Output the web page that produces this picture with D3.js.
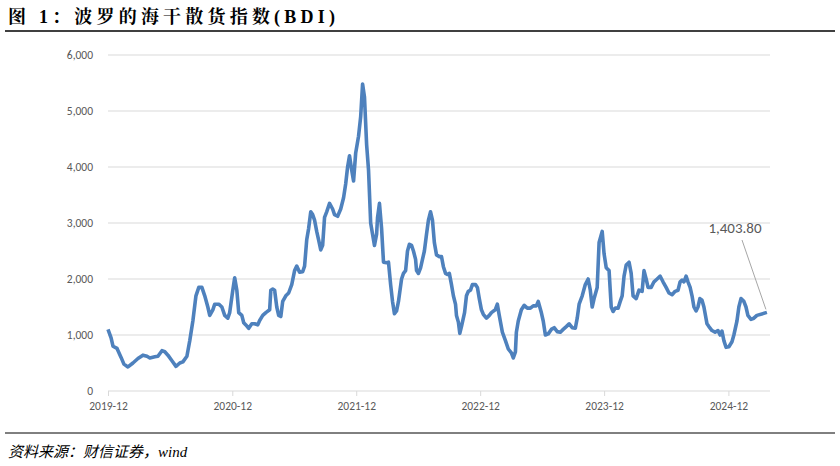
<!DOCTYPE html>
<html><head><meta charset="utf-8">
<script src="https://cdn.jsdelivr.net/npm/d3@7"></script>
<style>body{margin:0;background:#fff}</style></head>
<body><svg id="c" width="840" height="466"></svg>
<script>
// weeks since 2019-12-01, BDI value
const weeks=[0,1.3,2.1,3.8,5.5,6.7,8.4,10.5,12.6,14.7,16.4,17.6,19.7,21,22.7,23.9,25.2,26.9,28.6,30.2,31.5,33.2,34.4,35.7,37,38.2,39.5,40.7,42,42.8,44.1,44.9,46.6,47.9,49.1,50.4,51.2,52.5,53.3,54.2,55,56.3,57.1,58,59.2,60.5,61.7,63,63.8,65.1,66.4,68,68.5,69.3,70.1,71,71.8,72.7,73.5,74.8,76,77.3,78.5,79.4,80.6,81.9,82.7,83.6,84.4,85.3,86.1,86.9,87.8,88.6,89.5,90.3,91.1,92,93.2,94.5,95.3,96.6,97.9,99.1,100,100.8,101.6,102.5,103.3,104.2,105.4,106.3,107.1,107.9,108.8,109.6,110.5,111.3,112.1,113,113.4,114.2,115.1,115.9,117.2,118,118.9,119.7,120.5,121.4,122.2,123.5,124.3,125.2,126,126.8,127.7,128.5,129.4,129.8,130.6,131.5,132.3,133.1,134,134.8,135.7,136.5,137.3,138.2,139.4,140.3,141.1,142,142.8,143.6,144.5,145.3,146.2,146.6,147.4,148,148.7,150,150.8,151.6,152.5,153.3,154.6,155.4,156.2,157.1,157.9,159.2,160.4,161.3,162.9,163.8,164.6,165.9,167.2,168.4,169.7,170.5,171.4,171.8,172.6,173.9,175.1,176.4,177.7,178.9,180.2,181,182.3,183.1,184,185.2,186.5,187.7,189,190.3,191.5,192.8,194,195.3,196.6,197.4,198.2,199.5,200.8,202,202.9,203.7,204.5,205.8,206.6,207.9,208.7,209.6,210.8,211.7,212.5,213.4,214.6,215.5,216.3,217.1,218,219.2,220.1,220.9,222.2,223.4,224.7,225.5,226.4,227.2,228.5,229.7,231,232.3,233.5,234.8,236,237.3,238.6,239.8,240.7,241.5,242.3,243.2,244,244.9,245.7,246.5,247.4,248.2,249,249.9,250.7,252,252.8,254.1,255.4,256.6,257.5,258.3,259.1,260,261.2,262.5,263.3,264.6,265.4,266.3,267.5,268.4,269.2,270.5,271.7,273,277.2];
const values=[1100,950,800,760,600,480,430,500,580,640,620,590,610,620,720,700,640,540,440,500,520,620,900,1250,1700,1850,1850,1700,1500,1350,1450,1550,1550,1500,1350,1300,1400,1800,2020,1800,1400,1350,1220,1180,1120,1200,1200,1180,1260,1350,1400,1450,1800,1820,1800,1500,1350,1330,1600,1700,1750,1900,2150,2230,2120,2130,2230,2700,2900,3200,3150,3050,2850,2700,2520,2600,3100,3200,3350,3250,3150,3120,3250,3450,3700,4000,4200,3950,3750,4250,4550,4900,5480,5250,4400,3950,3000,2800,2600,2800,3100,3350,2900,2300,2290,2300,1900,1600,1380,1430,1600,2000,2100,2150,2500,2620,2600,2500,2350,2150,2100,2200,2350,2500,2800,3050,3200,3050,2650,2430,2400,2400,2220,2100,2080,2100,1900,1700,1550,1350,1230,1030,1150,1400,1700,1780,1800,1900,1900,1850,1650,1450,1370,1300,1350,1400,1450,1550,1350,1050,900,750,680,590,700,1050,1250,1450,1530,1480,1480,1520,1520,1600,1400,1250,1000,1020,1100,1130,1060,1050,1100,1150,1200,1130,1120,1300,1550,1700,1900,2000,1800,1500,1650,1850,2650,2850,2450,2200,2150,1500,1420,1480,1480,1600,1700,2050,2250,2300,2100,1700,1650,1800,1780,2150,2000,1850,1850,1950,2000,2050,1950,1850,1750,1720,1780,1800,1950,1980,1950,2050,1950,1850,1700,1500,1430,1500,1650,1620,1500,1200,1150,1080,1050,1080,1000,1070,900,780,790,880,1000,1250,1500,1650,1600,1500,1350,1280,1300,1350,1403.8];
const yTicks=[0,1000,2000,3000,4000,5000,6000];
const xTickLabels=["2019-12","2020-12","2021-12","2022-12","2023-12","2024-12"];
const title="图 1：波罗的海干散货指数(BDI)";
const source="资料来源：财信证券，wind";
const lastLabel="1,403.80";

const svg=d3.select("#c");
const start=new Date(2019,11,1);
const toDate=w=>new Date(start.getTime()+w*7*864e5);
const x=d3.scaleTime().domain([start,toDate(278.5)]).range([108,770]);
const y=d3.scaleLinear().domain([0,6000]).range([391,55]);
const grey="#595959";
const f="Calibri, Carlito, 'Liberation Sans', Arial, sans-serif";

svg.append("text").attr("x",8).attr("y",23).attr("font-family","'Liberation Serif','Noto Serif CJK SC','Noto Sans CJK SC',serif").attr("font-weight","bold").attr("font-size",18).attr("letter-spacing",4.2).text(title);
svg.append("line").attr("x1",5).attr("x2",835).attr("y1",31).attr("y2",31).attr("stroke","#000").attr("stroke-width",1.3);
svg.append("line").attr("x1",5).attr("x2",835).attr("y1",433).attr("y2",433).attr("stroke","#000").attr("stroke-width",1);
svg.append("text").attr("x",8).attr("y",457).attr("font-family","'Liberation Serif','Noto Sans CJK SC',serif").attr("font-style","italic").attr("font-size",15).text(source);

svg.append("g").selectAll("line").data(yTicks.slice(1)).join("line")
 .attr("x1",108).attr("x2",770).attr("y1",d=>y(d)).attr("y2",d=>y(d)).attr("stroke","#d9d9d9");
svg.append("g").selectAll("text").data(yTicks).join("text")
 .attr("x",93).attr("y",d=>y(d)+4).attr("text-anchor","end").attr("font-family",f).attr("font-size",11.5).attr("fill",grey).text(d3.format(","));
const xt=xTickLabels.map(s=>{const [a,b]=s.split("-");return new Date(+a,+b-1,1);});
const xa=svg.append("g").attr("transform","translate(0,391)").call(d3.axisBottom(x).tickValues(xt).tickFormat((d,i)=>xTickLabels[i]).tickSize(5).tickPadding(6));
xa.select(".domain").attr("stroke","#d9d9d9").attr("d","M108,0H770");
xa.selectAll("line").attr("stroke","#d9d9d9");
xa.selectAll("text").attr("font-family",f).attr("font-size",11.5).attr("fill",grey);

const data=weeks.map((w,i)=>({d:toDate(w),v:values[i]}));
svg.append("path").datum(data).attr("fill","none").attr("stroke","#4e81bd").attr("stroke-width",3.6).attr("stroke-linejoin","round")
 .attr("d",d3.line().x(d=>x(d.d)).y(d=>y(d.v)));
const last=data[data.length-1];
svg.append("line").attr("x1",742).attr("y1",240).attr("x2",x(last.d)-1).attr("y2",y(last.v)-3).attr("stroke","#a6a6a6");
svg.append("text").attr("x",735).attr("y",233).attr("text-anchor","middle").attr("font-family",f).attr("font-size",15).attr("fill",grey).text(lastLabel);
</script></body></html>
